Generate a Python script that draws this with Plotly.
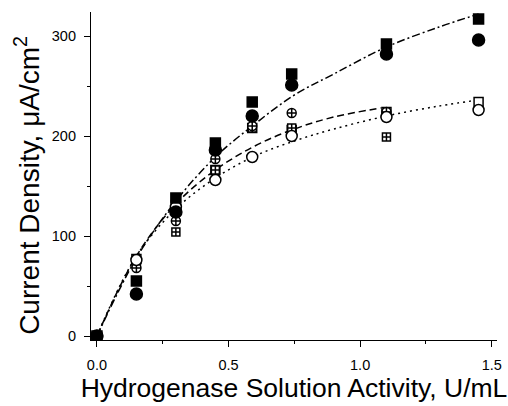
import plotly.graph_objects as go

# ---- data ----
activity = [0.0, 0.15, 0.30, 0.45, 0.59, 0.74, 1.10, 1.45]
activity_b = [0.0, 0.15, 0.30, 0.45, 0.59, 0.74, 1.10]

filled_square = [0, 55, 138, 193, 234, 262, 292, 317]
filled_circle = [0, 42, 124, 186, 220, 251, 282, 296]
cross_circle = [0, 68, 115, 177, 210, 223, 224]
cross_square = [0, 72, 104, 166, 208, 208, 199]
open_circle = [0, 76, 129, 156, 179, 200, 219, 226]
open_square = [0, 77, 131, 166, 208, 206, 224, 234]

fit_a_x = [0.0, 0.15, 0.30, 0.45, 0.60, 0.75, 0.90, 1.10, 1.30, 1.45]
fit_a_y = [0, 78, 135, 179, 212, 241, 262, 289, 309, 322]
fit_b_x = [0.0, 0.15, 0.30, 0.45, 0.60, 0.75, 0.90, 1.08]
fit_b_y = [0, 80, 132, 166, 190, 207, 219, 228]
fit_c_x = [0.0, 0.15, 0.30, 0.45, 0.60, 0.75, 0.90, 1.10, 1.30, 1.45]
fit_c_y = [0, 80, 127, 158, 180, 195, 207, 220, 230, 236]

y_ticks = [0, 100, 200, 300]
x_ticks = [0.0, 0.5, 1.0, 1.5]
x_tick_text = ["0.0", "0.5", "1.0", "1.5"]
x_title = "Hydrogenase Solution Activity, U/mL"
y_title = "Current Density, μA/cm<sup>2</sup>"

fig = go.Figure()

line_style = dict(color="black", width=1.5, shape="spline")
fig.add_trace(go.Scatter(x=fit_a_x, y=fit_a_y, mode="lines",
                         line=dict(**line_style, dash="8px,3px,2px,3px")))
fig.add_trace(go.Scatter(x=fit_b_x, y=fit_b_y, mode="lines",
                         line=dict(**line_style, dash="7px,4px")))
fig.add_trace(go.Scatter(x=fit_c_x, y=fit_c_y, mode="lines",
                         line=dict(**line_style, dash="2px,4px")))

def pts(x, y, symbol, size, fill):
    fig.add_trace(go.Scatter(x=x, y=y, mode="markers",
                             marker=dict(symbol=symbol, size=size, color=fill,
                                         line=dict(color="black", width=1.5))))

pts(activity, open_square, "square", 9, "white")
pts(activity_b, cross_square, "square-cross", 8, "white")
pts(activity_b, cross_circle, "circle-cross", 9, "white")
pts(activity, open_circle, "circle", 11, "white")
pts(activity, filled_square, "square", 10, "black")
pts(activity, filled_circle, "circle", 12, "black")

axis_common = dict(
    showline=True, linecolor="black", linewidth=1.2,
    ticks="outside", tickcolor="black", ticklen=6, tickwidth=1.2,
    showgrid=False, zeroline=False, mirror=False,
    tickfont=dict(family="Liberation Sans, Arial", size=14.5, color="black"),
    ticklabelstandoff=5,
    minor=dict(ticks="outside", ticklen=3, tickcolor="black", tickwidth=1.2),
)

fig.update_layout(
    width=508, height=406,
    margin=dict(l=91, r=6, t=12, b=66),
    paper_bgcolor="white", plot_bgcolor="white",
    showlegend=False,
    font=dict(family="Liberation Sans, Arial", color="black"),
    xaxis=dict(axis_common, range=[-0.0225, 1.52], tickvals=x_ticks, ticktext=x_tick_text,
               minor=dict(axis_common["minor"], dtick=0.25, tick0=0),
               title=dict(text=x_title, font=dict(size=26.5), standoff=6)),
    yaxis=dict(axis_common, range=[-4, 324], tickvals=y_ticks,
               minor=dict(axis_common["minor"], dtick=50, tick0=0)),
    annotations=[dict(text=y_title, textangle=-90, showarrow=False,
                      xref="paper", yref="paper", x=-0.156, y=0.472,
                      xanchor="center", yanchor="middle",
                      font=dict(size=28, family="Liberation Sans, Arial", color="black"))],
)

fig.write_html("out.html")
